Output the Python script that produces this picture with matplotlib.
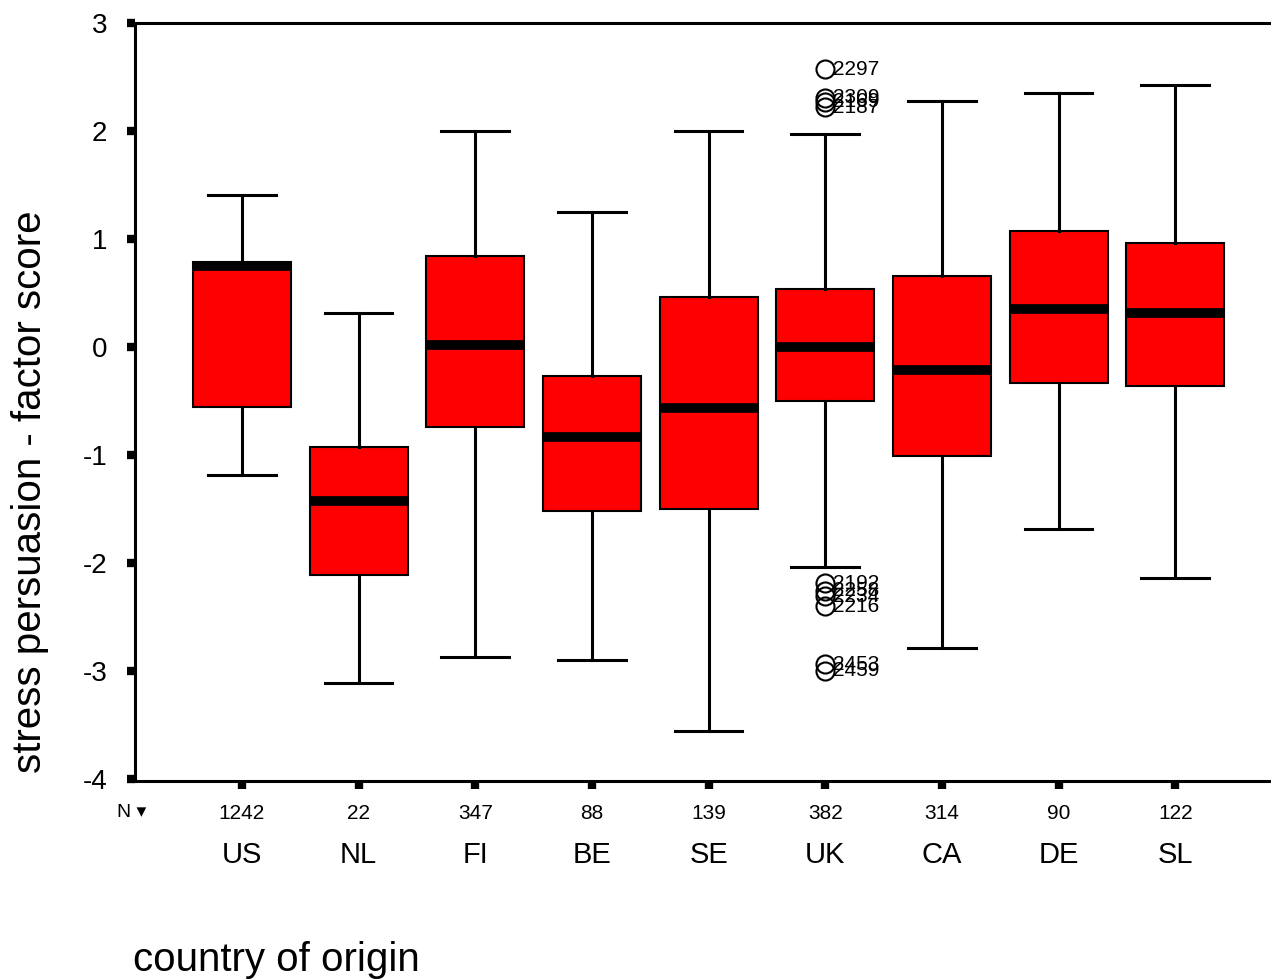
import matplotlib.pyplot as plt

plt.rcParams['font.family'] = ['Liberation Sans', 'DejaVu Sans']

# Factor score summaries per country of origin
countries = ["US", "NL", "FI", "BE", "SE", "UK", "CA", "DE", "SL"]
n_cases = [1242, 22, 347, 88, 139, 382, 314, 90, 122]
whisker_low = [-1.19, -3.11, -2.87, -2.90, -3.56, -2.04, -2.79, -1.69, -2.14]
q1 = [-0.56, -2.11, -0.74, -1.52, -1.50, -0.50, -1.01, -0.33, -0.36]
medians = [0.75, -1.43, 0.02, -0.83, -0.57, 0.00, -0.21, 0.35, 0.31]
q3 = [0.79, -0.93, 0.84, -0.27, 0.46, 0.54, 0.66, 1.07, 0.96]
whisker_high = [1.41, 0.31, 2.00, 1.25, 2.00, 1.97, 2.28, 2.35, 2.43]

# Outlying cases (UK only)
outlier_values = [2.57, 2.31, 2.27, 2.22, -2.19, -2.26, -2.31, -2.40, -2.94, -3.00]
outlier_ids = ["2297", "2309", "2169", "2187", "2192", "2258", "2234", "2216", "2453", "2459"]
outlier_group = 6

stats = []
for i, name in enumerate(countries):
    stats.append({
        "label": name,
        "whislo": whisker_low[i],
        "q1": q1[i],
        "med": medians[i],
        "q3": q3[i],
        "whishi": whisker_high[i],
        "fliers": outlier_values if i + 1 == outlier_group else [],
    })

fig = plt.figure(figsize=(12.71, 9.80), dpi=100)
ax = fig.add_axes([135 / 1271, 1 - 781 / 980, 1 - 135 / 1271, (781 - 23) / 980])

ax.bxp(stats, positions=range(1, 10), widths=0.84, patch_artist=True,
       boxprops=dict(facecolor="#ff0000", edgecolor="black", linewidth=1.5),
       medianprops=dict(color="black", linewidth=7, solid_capstyle="butt"),
       whiskerprops=dict(color="black", linewidth=2.2),
       capprops=dict(color="black", linewidth=2.2),
       capwidths=0.58,
       flierprops=dict(marker="o", markerfacecolor="none", markeredgecolor="black",
                       markersize=13, markeredgewidth=1.5))

for v, label in zip(outlier_values, outlier_ids):
    ax.text(outlier_group + 0.07, v, label, fontsize=15, va="center", ha="left")

ax.set_xlim(0.083, 9.82)
ax.set_ylim(-4.02, 3)
ax.set_yticks(range(-4, 4))
ax.set_yticklabels([str(t) for t in range(-4, 4)], fontsize=20)
ax.set_xticks(range(1, 10))
ax.set_xticklabels(countries, fontsize=21)

ax.tick_params(axis="y", direction="out", length=6, width=6, pad=14)
ax.tick_params(axis="x", direction="out", length=6, width=6, pad=37)

for side in ["left", "top", "bottom"]:
    ax.spines[side].set_linewidth(2.2)
ax.spines["right"].set_visible(False)

# Case counts row under the axis
for i, n in enumerate(n_cases):
    ax.text(i + 1, -0.03, str(n), transform=ax.get_xaxis_transform(),
            ha="center", va="top", fontsize=15)
ax.text(-0.016, -0.03, "N \u25be", transform=ax.transAxes,
        ha="left", va="top", fontsize=14)

fig.text(30 / 1271, 1 - 492 / 980, "stress persuasion - factor score",
         fontsize=29, rotation=90, ha="center", va="center")
fig.text(133 / 1271, 1 - 960 / 980, "country of origin", fontsize=29,
         ha="left", va="center")

fig.savefig("out.png", dpi=100)
